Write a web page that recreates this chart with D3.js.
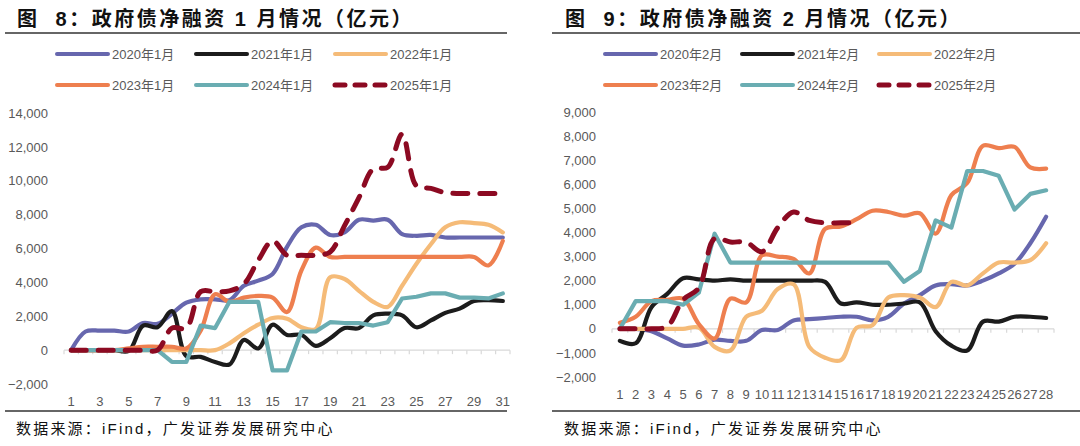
<!DOCTYPE html>
<html>
<head>
<meta charset="utf-8">
<script src="https://cdn.jsdelivr.net/npm/d3@7"></script>
<style>
  body { margin: 0; background: #fff; }
  svg { display: block; }
  .pre { white-space: pre; }
</style>
</head>
<body>
<div id="chart"></div>
<script>
const width = 1080;
const height = 446;

// Jan data (days 1-31)
const janDays = d3.range(1, 32);
const jan2020 = [0, 1100, 1150, 1150, 1100, 1600, 1550, 2150, 2800, 3000, 3000, 2950, 3800, 4100, 4500, 6100, 7250, 7400, 6800, 6950, 7700, 7650, 7700, 6850, 6750, 6800, 6650, 6650, 6650, 6650, 6650];
const jan2021 = [0, 0, 0, 0, -50, 1450, 1350, 2300, -350, -400, -700, -850, 600, 100, 1500, 900, 900, 250, 700, 1300, 1300, 2050, 2150, 2050, 1350, 1750, 2200, 2450, 2900, 2950, 2900];
const jan2022 = [0, 0, 0, 0, 0, 0, 0, 0, 0, 0, 0, 400, 1000, 1500, 1900, 1850, 1350, 1250, 4300, 4200, 3500, 2850, 2550, 3800, 5100, 6250, 7250, 7550, 7500, 7400, 6950];
const jan2023 = [0, 0, 0, 0, 100, 200, 200, 200, 100, 1150, 3300, 2850, 3100, 3200, 3100, 2250, 4700, 6050, 5500, 5500, 5500, 5500, 5500, 5500, 5500, 5500, 5500, 5500, 5500, 5000, 6450];
const jan2024 = [0, 0, 0, 0, 0, 0, 0, -700, -700, 1450, 1300, 2850, 2850, 2850, -1200, -1200, 1100, 1100, 1650, 1600, 1600, 1450, 1650, 3050, 3150, 3350, 3350, 3100, 3100, 3050, 3350];
const jan2025 = [0, 0, 0, 0, 0, 0, 0, 1300, 1300, 3450, 3450, 3500, 3900, 5300, 6450, 5600, 5600, 5600, 5800, 7350, 9000, 10700, 10800, 12750, 9700, 9550, 9300, 9250, 9250, 9250, 9250];

// Feb data (days 1-28)
const febDays = d3.range(1, 29);
const feb2020 = [0, 0, -100, -400, -700, -650, -450, -500, -500, -50, -50, 350, 400, 450, 500, 500, 350, 500, 1050, 1400, 1800, 1850, 1800, 2000, 2300, 2700, 3550, 4650];
const feb2021 = [-500, -600, 900, 1450, 2100, 2050, 2000, 2050, 2000, 2000, 2000, 2000, 2000, 1950, 1050, 1100, 1000, 1000, 1050, 1100, -100, -700, -900, 300, 300, 500, 500, 450];
const feb2022 = [0, 0, 0, 0, 0, 50, -750, -900, 500, 750, 1650, 1850, -750, -1200, -1300, 50, 150, 1300, 1400, 1300, 900, 1950, 1800, 2300, 2750, 2750, 2850, 3550];
const feb2023 = [250, 500, 1150, 1200, 1250, 200, -400, 1250, 1100, 3050, 3000, 2900, 2300, 4150, 4250, 4550, 4900, 4850, 4700, 4800, 3950, 5550, 6050, 7600, 7500, 7550, 6700, 6650];
const feb2024 = [0, 1150, 1150, 1150, 1000, 1500, 3950, 2750, 2750, 2750, 2750, 2750, 2750, 2750, 2750, 2750, 2750, 2750, 1950, 2400, 4500, 4200, 6550, 6550, 6350, 4950, 5600, 5750];
const feb2025 = [0, 0, 0, 100, 1200, 1700, 3750, 3600, 3600, 3200, 4200, 4850, 4500, 4400, 4400, 4400];

const janTicks = [-2000, 0, 2000, 4000, 6000, 8000, 10000, 12000, 14000];
const febTicks = [-2000, -1000, 0, 1000, 2000, 3000, 4000, 5000, 6000, 7000, 8000, 9000];

const colors = {
    y2020: "#6767ae",
    y2021: "#1c1c1c",
    y2022: "#f5bb78",
    y2023: "#ee7f4f",
    y2024: "#6aadb2",
    y2025: "#8c0a22"
};

const svg = d3.select("#chart")
    .append("svg")
    .attr("width", width)
    .attr("height", height);

const latin = "'Liberation Sans', Arial, 'Noto Sans CJK SC', sans-serif";
const cjk = "'Liberation Sans', 'Noto Sans CJK SC', sans-serif";

function drawChart(cfg) {
    const g = svg.append("g");

    // Title
    g.append("text")
        .attr("class", "pre")
        .attr("x", cfg.titleX)
        .attr("y", 26)
        .attr("font-family", cjk)
        .attr("font-weight", "bold")
        .attr("font-size", 20)
        .attr("letter-spacing", 2.5)
        .attr("fill", "#111")
        .text(cfg.title);

    g.append("line")
        .attr("x1", cfg.left).attr("x2", cfg.right)
        .attr("y1", 33).attr("y2", 33)
        .attr("stroke", "#333").attr("stroke-width", 1.3);

    g.append("line")
        .attr("x1", cfg.left).attr("x2", cfg.right)
        .attr("y1", 411).attr("y2", 411)
        .attr("stroke", "#333").attr("stroke-width", 1.3);

    g.append("text")
        .attr("x", cfg.titleX - 1)
        .attr("y", 434)
        .attr("font-family", cjk)
        .attr("font-size", 15)
        .attr("letter-spacing", 2.2)
        .attr("fill", "#111")
        .text("数据来源：iFind，广发证券发展研究中心");

    const x = d3.scaleBand()
        .domain(cfg.days)
        .range(cfg.xRange);

    const y = d3.scaleLinear()
        .domain(cfg.yDomain)
        .range(cfg.yRange);

    // Y axis labels
    const yAxis = d3.axisLeft(y)
        .tickValues(cfg.yTicks)
        .tickSize(0)
        .tickPadding(0)
        .tickFormat(d3.format(","));

    g.append("g")
        .attr("transform", `translate(${cfg.yLabelX},0)`)
        .call(yAxis)
        .call(a => a.select(".domain").remove())
        .call(a => a.selectAll("text")
            .attr("font-family", latin)
            .attr("font-size", 13)
            .attr("fill", "#595959"));

    // Zero line with category boundary ticks
    const y0 = y(0);
    g.append("line")
        .attr("x1", cfg.xRange[0]).attr("x2", cfg.xRange[1])
        .attr("y1", y0).attr("y2", y0)
        .attr("stroke", "#d9d9d9").attr("stroke-width", 1.2);

    g.append("g")
        .selectAll("line")
        .data(d3.range(cfg.days.length + 1))
        .enter().append("line")
        .attr("x1", i => cfg.xRange[0] + i * x.step())
        .attr("x2", i => cfg.xRange[0] + i * x.step())
        .attr("y1", y0).attr("y2", y0 + 4)
        .attr("stroke", "#d9d9d9").attr("stroke-width", 1.2);

    // X labels at bottom
    const xAxis = d3.axisBottom(x)
        .tickValues(cfg.xTickValues)
        .tickSize(0)
        .tickPadding(0);

    g.append("g")
        .attr("transform", `translate(0,${cfg.xLabelY})`)
        .call(xAxis)
        .call(a => a.select(".domain").remove())
        .call(a => a.selectAll("text")
            .attr("font-family", latin)
            .attr("font-size", 13)
            .attr("fill", "#595959"));

    // Lines
    cfg.series.forEach(s => {
        const line = d3.line()
            .x((d, i) => x(cfg.days[i]) + x.bandwidth() / 2)
            .y(d => y(d))
            .curve(s.straight ? d3.curveLinear : d3.curveCatmullRom.alpha(0.5));

        g.append("path")
            .datum(s.values)
            .attr("d", line)
            .attr("fill", "none")
            .attr("stroke", s.color)
            .attr("stroke-width", s.dashed ? 5 : 4.2)
            .attr("stroke-linecap", "round")
            .attr("stroke-linejoin", "round")
            .attr("stroke-dasharray", s.dashed ? "15,12" : null);
    });

    // Legend
    const legend = g.append("g");
    cfg.series.forEach((s, i) => {
        const col = i % 3;
        const row = Math.floor(i / 3);
        const lx = cfg.legendX + col * cfg.legendStep;
        const ly = 54 + row * 31;
        legend.append("line")
            .attr("x1", lx).attr("x2", lx + 51)
            .attr("y1", ly).attr("y2", ly)
            .attr("stroke", s.color)
            .attr("stroke-width", s.dashed ? 5 : 4)
            .attr("stroke-linecap", "round")
            .attr("stroke-dasharray", s.dashed ? "10,10" : null);
        legend.append("text")
            .attr("x", lx + 55)
            .attr("y", ly + 5)
            .attr("font-family", cjk)
            .attr("font-size", 13)
            .attr("fill", "#595959")
            .text(s.name);
    });
}

drawChart({
    title: "图  8：政府债净融资 1 月情况（亿元）",
    titleX: 17,
    left: 5,
    right: 507,
    days: janDays,
    xRange: [64, 510],
    yDomain: [-2000, 14000],
    yRange: [384, 113],
    yTicks: janTicks,
    yLabelX: 48,
    xTickValues: janDays.filter(d => d % 2 === 1),
    xLabelY: 397,
    legendX: 57,
    legendStep: 139,
    series: [
        { name: "2020年1月", values: jan2020, color: colors.y2020 },
        { name: "2021年1月", values: jan2021, color: colors.y2021 },
        { name: "2022年1月", values: jan2022, color: colors.y2022 },
        { name: "2023年1月", values: jan2023, color: colors.y2023 },
        { name: "2024年1月", values: jan2024, color: colors.y2024, straight: true },
        { name: "2025年1月", values: jan2025, color: colors.y2025, dashed: true }
    ]
});

drawChart({
    title: "图  9：政府债净融资 2 月情况（亿元）",
    titleX: 565,
    left: 552,
    right: 1080,
    days: febDays,
    xRange: [612, 1054],
    yDomain: [-2000, 9000],
    yRange: [377, 112],
    yTicks: febTicks,
    yLabelX: 596,
    xTickValues: febDays,
    xLabelY: 390,
    legendX: 605,
    legendStep: 137,
    series: [
        { name: "2020年2月", values: feb2020, color: colors.y2020 },
        { name: "2021年2月", values: feb2021, color: colors.y2021 },
        { name: "2022年2月", values: feb2022, color: colors.y2022 },
        { name: "2023年2月", values: feb2023, color: colors.y2023 },
        { name: "2024年2月", values: feb2024, color: colors.y2024, straight: true },
        { name: "2025年2月", values: feb2025, color: colors.y2025, dashed: true }
    ]
});
</script>
</body>
</html>
